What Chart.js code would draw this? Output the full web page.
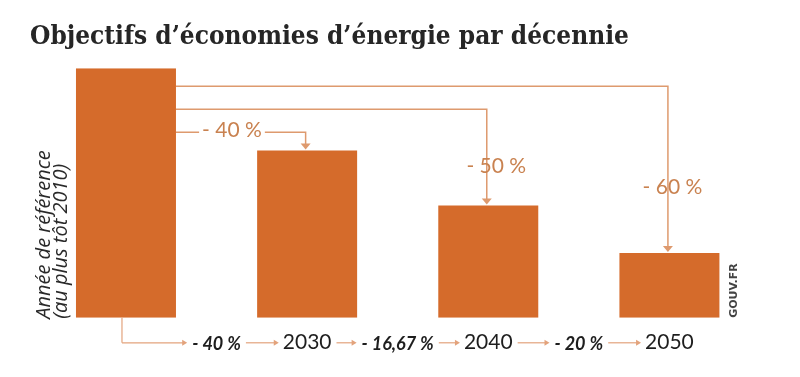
<!DOCTYPE html>
<html>
<head>
<meta charset="utf-8">
<script src="https://cdn.jsdelivr.net/npm/chart.js@4"></script>
<style>
  body { margin: 0; background: #fff; }
  #wrap { width: 800px; height: 377px; }
</style>
</head>
<body>
<div id="wrap"><canvas id="savingsChart" width="800" height="377"></canvas></div>
<script>
const chartTitle = 'Objectifs d\u2019économies d\u2019énergie par décennie';
// first bar is the reference year, it has no label under it
const years = ['', '2030', '2040', '2050'];
const consumption = [100, 67, 45, 26];
const targetLabels = ['- 40 %', '- 50 %', '- 60 %'];
const stepLabels = ['- 40 %', '- 16,67 %', '- 20 %'];
const axisNote = ['Année de référence', '(au plus tôt 2010)'];
const credit = 'GOUV.FR';

const barColor = '#d56b2b';
const lineColor = '#de9a6e';
const targetColor = '#c98250';
const arrowColor = '#e3a37c';

// where each long connector leaves the reference bar (px under its top)
const connectorDrop = [64, 41, 18];

function arrowDown(ctx, x, tipY) {
  ctx.beginPath();
  ctx.moveTo(x - 5, tipY - 6);
  ctx.lineTo(x + 5, tipY - 6);
  ctx.lineTo(x, tipY);
  ctx.closePath();
  ctx.fill();
}

function arrowRight(ctx, x1, x2, y) {
  ctx.beginPath();
  ctx.moveTo(x1, y);
  ctx.lineTo(x2 - 4, y);
  ctx.stroke();
  ctx.beginPath();
  ctx.moveTo(x2 - 5, y - 3);
  ctx.lineTo(x2, y);
  ctx.lineTo(x2 - 5, y + 3);
  ctx.closePath();
  ctx.fill();
}

const annotate = {
  id: 'annotate',
  afterDraw(chart) {
    const ctx = chart.ctx;
    const area = chart.chartArea;
    const bars = chart.getDatasetMeta(0).data;
    const ref = bars[0];
    const refRight = ref.x + ref.width / 2;
    ctx.save();

    // connectors from the reference bar to each target bar
    ctx.strokeStyle = lineColor;
    ctx.fillStyle = lineColor;
    ctx.lineWidth = 1.5;
    for (let i = 1; i < bars.length; i++) {
      const b = bars[i];
      const y = area.top + connectorDrop[i - 1];
      const x = b.x - 1.5;
      ctx.beginPath();
      ctx.moveTo(refRight, y);
      ctx.lineTo(x, y);
      ctx.lineTo(x, b.y - 5);
      ctx.stroke();
      arrowDown(ctx, x, b.y - 1);
    }

    // target percentages
    ctx.font = '21px Lato';
    ctx.textAlign = 'center';
    ctx.textBaseline = 'middle';
    const first = area.top + connectorDrop[0];
    const lx = refRight + 56;
    const w = ctx.measureText(targetLabels[0]).width;
    ctx.fillStyle = '#fff';
    ctx.fillRect(lx - w / 2 - 3, first - 10, w + 6, 20);
    ctx.fillStyle = targetColor;
    ctx.fillText(targetLabels[0], lx, first - 2);
    ctx.fillText(targetLabels[1], bars[2].x + 8, bars[2].y - 39);
    ctx.fillText(targetLabels[2], bars[3].x + 3, bars[3].y - 66);

    // bottom row: steps between decades
    const rowY = area.bottom + 25;
    const xs = chart.scales.x;
    ctx.font = '21px Lato';
    const tickW = years.map(t => ctx.measureText(t).width);
    ctx.font = 'italic bold 18px Lato';
    ctx.strokeStyle = arrowColor;
    ctx.fillStyle = arrowColor;
    ctx.lineWidth = 1.2;
    // elbow out of the reference bar
    const elbowX = ref.x - 4;
    for (let i = 1; i < bars.length; i++) {
      const prevC = xs.getPixelForValue(i - 1);
      const c = xs.getPixelForValue(i);
      const mid = (prevC + c) / 2;
      const sw = ctx.measureText(stepLabels[i - 1]).width;
      const sLeft = mid - sw / 2;
      const sRight = mid + sw / 2;
      if (i === 1) {
        ctx.beginPath();
        ctx.moveTo(elbowX, area.bottom);
        ctx.lineTo(elbowX, rowY);
        ctx.stroke();
        arrowRight(ctx, elbowX, sLeft - 5, rowY);
      } else {
        arrowRight(ctx, prevC + tickW[i - 1] / 2 + 5, sLeft - 5, rowY);
      }
      arrowRight(ctx, sRight + 5, c - tickW[i] / 2 - 4, rowY);
      ctx.fillStyle = '#1e1e1e';
      ctx.textAlign = 'center';
      ctx.fillText(stepLabels[i - 1], mid, rowY + 1);
      ctx.fillStyle = arrowColor;
    }

    // rotated note on the reference bar
    ctx.fillStyle = '#2a2a2a';
    ctx.font = 'italic 20px "Open Sans"';
    ctx.textAlign = 'left';
    ctx.textBaseline = 'middle';
    ctx.save();
    ctx.translate(44, area.bottom + 1);
    ctx.rotate(-Math.PI / 2);
    ctx.fillText(axisNote[0], 0, 0);
    ctx.fillText(axisNote[1], 0, 17);
    ctx.restore();

    // source
    ctx.save();
    ctx.font = 'bold 11px "DejaVu Sans"';
    ctx.fillStyle = '#444';
    ctx.translate(734, area.bottom);
    ctx.rotate(-Math.PI / 2);
    ctx.fillText(credit, 0, 0);
    ctx.restore();

    ctx.restore();
  }
};

const savingsChart = new Chart(document.getElementById('savingsChart'), {
  type: 'bar',
  data: {
    labels: years,
    datasets: [{
      data: consumption,
      backgroundColor: barColor,
      barPercentage: 1,
      categoryPercentage: 0.552
    }]
  },
  options: {
    responsive: false,
    animation: false,
    layout: { padding: { left: 30, right: 40, top: 0, bottom: 10 } },
    plugins: {
      legend: { display: false },
      tooltip: { enabled: false },
      title: {
        display: true,
        text: chartTitle,
        align: 'start',
        color: '#262626',
        font: { family: '"DejaVu Serif Condensed", "DejaVu Serif"', size: 26, weight: 'bold' },
        padding: { top: 22, bottom: 15 }
      }
    },
    scales: {
      x: {
        grid: { display: false, drawTicks: false },
        border: { display: false },
        ticks: {
          color: '#1e1e1e',
          font: { family: 'Lato', size: 21 },
          padding: 12,
          maxRotation: 0,
          autoSkip: false
        }
      },
      y: {
        min: 0,
        max: 100,
        grid: { display: false, drawTicks: false },
        border: { display: false },
        ticks: { display: false },
        afterFit: s => { s.width = 5.4; }
      }
    }
  },
  plugins: [annotate]
});
</script>
</body>
</html>
